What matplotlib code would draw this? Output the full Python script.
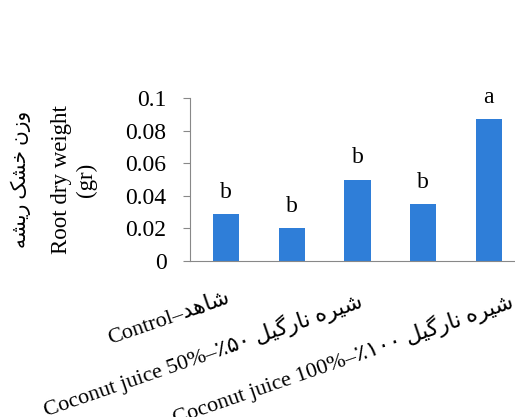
# -*- coding: utf-8 -*-
import numpy as np
import matplotlib.pyplot as plt
import matplotlib.transforms as mtrans

# matplotlib does no arabic shaping / bidi, so persian words are typed
# in visual order with presentation forms
fa_shahed = '\uFEAA\uFEEB\uFE8E\uFEB7'               # shahed
fa_shire = '\uFEE9\uFEAE\uFEF4\uFEB7'                # shire
fa_nargil = '\uFEDE\uFEF4\uFB94\uFEAD\uFE8E\uFEE7'   # nargil
fa_vazn = '\uFEE5\uFEAF\uFEED'
fa_khoshk = '\uFB8F\uFEB8\uFEA7'
fa_rishe = '\uFEEA\uFEB8\uFEF3\uFEAD'
fa_50 = '\u066A\u06F5\u06F0'
fa_100 = '\u066A\u06F1\u06F0\u06F0'

categories = ['Control', 'T2', 'Coconut juice 50%', 'T4', 'Coconut juice 100%']
values = [0.029, 0.020, 0.050, 0.035, 0.087]
letters = ['b', 'b', 'b', 'b', 'a']
tick_labels = ['Control\u2013' + fa_shahed,
               '',
               'Coconut juice 50%\u2013' + fa_50 + ' ' + fa_nargil + ' ' + fa_shire,
               '',
               'Coconut juice 100%\u2013' + fa_100 + ' ' + fa_nargil + ' ' + fa_shire]
yticks = [0, 0.02, 0.04, 0.06, 0.08, 0.1]
ytick_labels = ['0', '0.02', '0.04', '0.06', '0.08', '0.1']

fonts = ['Liberation Serif', 'DejaVu Sans']
plt.rcParams['font.family'] = fonts

fig = plt.figure(figsize=(5.15, 4.17), dpi=100)
ax = fig.add_axes([190/515, 1-261/417, 325/515, 163/417])

x = np.arange(len(categories))
ax.bar(x, values, width=0.4, color='#2f7ed8')
for xi, v, l in zip(x, values, letters):
    ax.annotate(l, (xi, v), xytext=(0, 8), textcoords='offset points',
                ha='center', va='bottom', fontsize=17)

ax.set_xlim(-0.55, 4.4)
ax.set_ylim(0, 0.1)
ax.set_yticks(yticks)
ax.set_yticklabels(ytick_labels, fontsize=17)
ax.set_xticks(x)
ax.set_xticklabels(tick_labels, fontsize=16, rotation=19, ha='right',
                   rotation_mode='anchor')
ax.tick_params(axis='x', length=0, pad=20)
ax.tick_params(axis='y', length=5, color='#888888', pad=12)
# last label sits a bit right of its bar in the original
lab = ax.get_xticklabels()[4]
lab.set_transform(lab.get_transform() + mtrans.ScaledTranslation(0.2, 0, fig.dpi_scale_trans))
for s in ['top', 'right']:
    ax.spines[s].set_visible(False)
for s in ['left', 'bottom']:
    ax.spines[s].set_color('#888888')
ax.set_ylabel('Root dry weight\n(gr)', fontsize=16.5, labelpad=20, linespacing=1.25)
fig.text(21/515, 1-179/417, fa_rishe + ' ' + fa_khoshk + ' ' + fa_vazn,
         rotation=90, ha='center', va='center', fontsize=14.5)

plt.savefig('out.png')
